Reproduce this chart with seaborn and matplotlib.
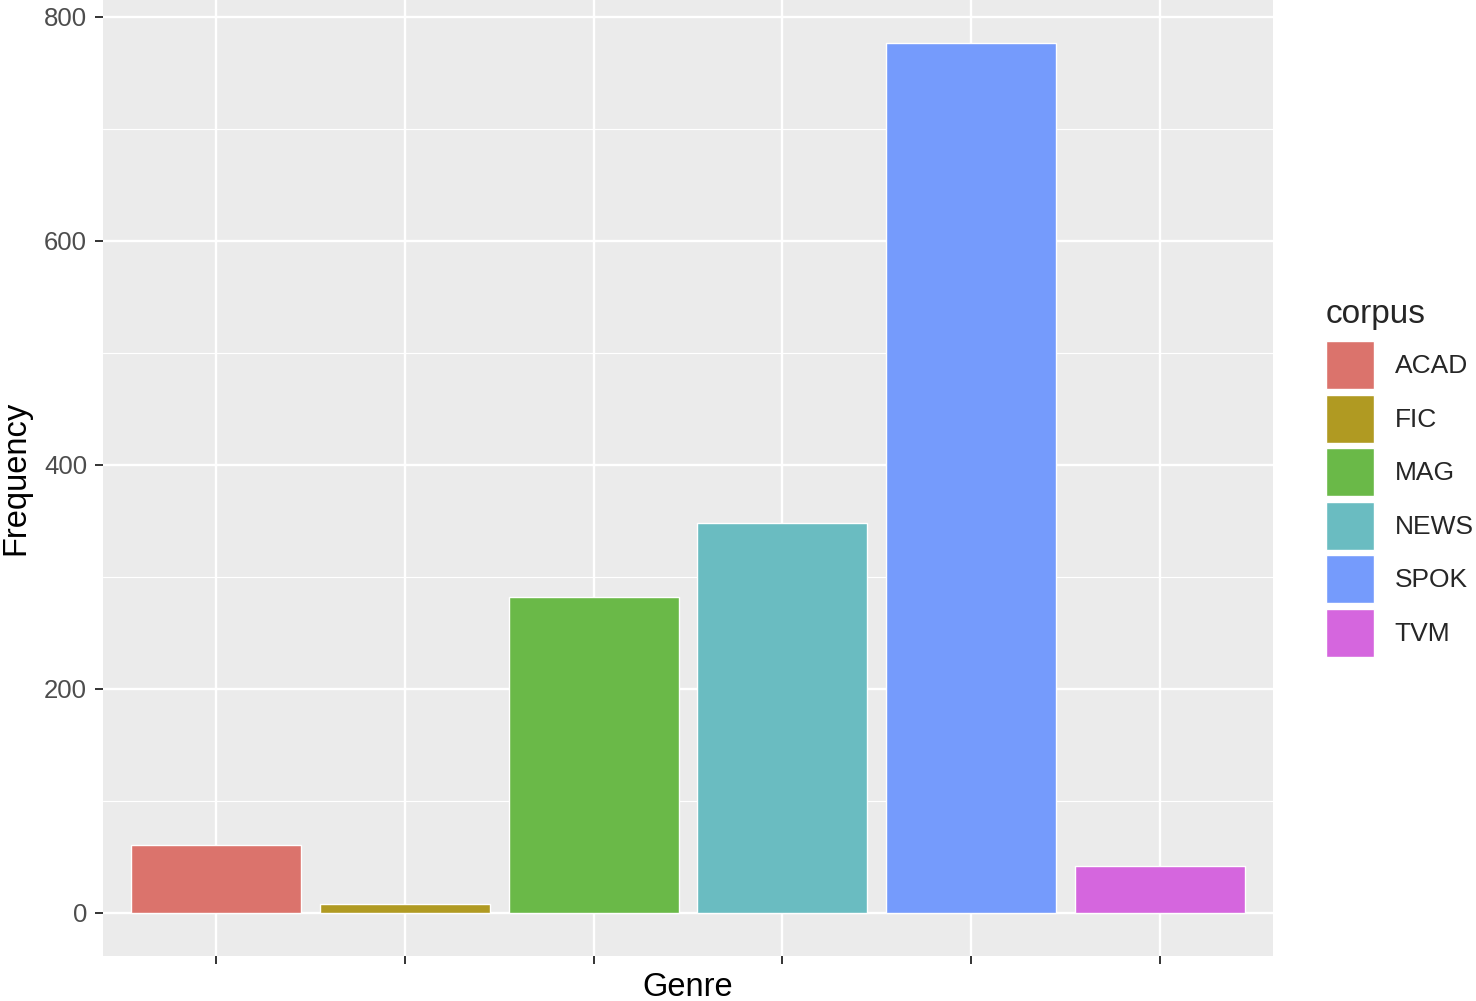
import matplotlib
matplotlib.use("Agg")
import matplotlib.pyplot as plt
import seaborn as sns
import pandas as pd

# values
corpus = ["ACAD", "FIC", "MAG", "NEWS", "SPOK", "TVM"]
frequency = [60, 8, 282, 348, 776, 42]
colors = ["#DB736C", "#B09A22", "#6AB948", "#6ABCC1", "#759BFC", "#D566DE"]
y_ticks = [0, 200, 400, 600, 800]
y_minor = [100, 300, 500, 700]

df = pd.DataFrame({"corpus": corpus, "Frequency": frequency})

sns.set_style("darkgrid", {
    "axes.facecolor": "#EBEBEB",
    "grid.color": "white",
})
plt.rcParams["font.family"] = ["Liberation Sans", "DejaVu Sans"]

fig = plt.figure(figsize=(14.76, 10.01), dpi=100)
ax = fig.add_axes([103 / 1476, 45 / 1001, 1170 / 1476, 956 / 1001])

sns.barplot(
    data=df,
    x="corpus",
    y="Frequency",
    hue="corpus",
    palette=colors,
    width=0.9,
    saturation=1,
    legend=True,
    ax=ax,
    zorder=3
)

ax.set_xlim(-0.6, 5.6)
ax.set_ylim(-38.8, 814.8)
ax.set_yticks(y_ticks)
ax.set_yticks(y_minor, minor=True)
ax.set_xticks(range(len(corpus)))
ax.set_xticklabels([""] * len(corpus))

ax.grid(which="major", color="white", linewidth=1.7, zorder=0)
ax.grid(which="minor", axis="y", color="white", linewidth=0.85, zorder=0)
ax.set_axisbelow(True)
for s in ax.spines.values():
    s.set_visible(False)

ax.tick_params(axis="both", which="major", bottom=True, left=True,
               length=5.5, width=1.4, color="#333333",
               labelsize=18.5, labelcolor="#4D4D4D", pad=6)
ax.tick_params(axis="y", which="minor", length=0)

ax.set_xlabel("Genre", fontsize=23.5, color="black")
ax.set_ylabel("Frequency", fontsize=23.5, color="black")
ax.xaxis.set_label_coords(0.5, -0.017)
ax.xaxis.label.set_va("top")
ax.yaxis.set_label_coords(-0.061, 0.5)

sns.move_legend(
    ax,
    loc="upper left",
    bbox_to_anchor=(1326 / 1476, 1 - 299 / 1001),
    bbox_transform=fig.transFigure,
    title="corpus",
    frameon=False,
    fontsize=19,
    title_fontsize=24,
    handlelength=1.82,
    handleheight=2.42,
    labelspacing=0.21,
    handletextpad=0.78,
    borderpad=0,
    borderaxespad=0,
)
leg = ax.get_legend()
leg._legend_box.align = "left"
leg._legend_box.sep = 8
for h in leg.legend_handles:
    h.set_edgecolor("white")
    h.set_linewidth(1)

fig.savefig("out.png", dpi=100)
